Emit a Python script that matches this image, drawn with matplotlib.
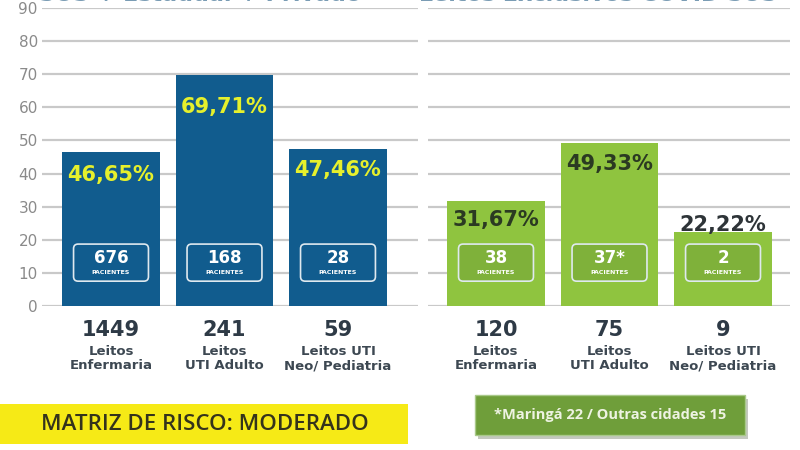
import matplotlib
matplotlib.use("Agg")
import matplotlib.pyplot as plt
from matplotlib.patches import FancyBboxPatch, Rectangle

# left group (blue), right group (green)
categories = ["Leitos\nEnfermaria", "Leitos\nUTI Adulto", "Leitos UTI\nNeo/ Pediatria"]
left_pct = [46.65, 69.71, 47.46]
left_beds = [1449, 241, 59]
left_patients = ["676", "168", "28"]
right_pct = [31.67, 49.33, 22.22]
right_beds = [120, 75, 9]
right_patients = ["38", "37*", "2"]
yticks = [0, 10, 20, 30, 40, 50, 60, 70, 80, 90]

BLUE = "#115c8e"
GREEN = "#8fc43f"
GREEN_DARK = "#6f9e3a"
GRID = "#c9c9c9"
DARK = "#2e3a46"
YELLOW_TXT = "#e6f02c"

fig = plt.figure(figsize=(8, 4.5), dpi=100)
fig.patch.set_facecolor("white")

ax1 = fig.add_axes([42/800, 1-306/450, 376/800, 298/450])
ax2 = fig.add_axes([428/800, 1-306/450, 362/800, 298/450])


def pct_label(v):
    return ("%.2f%%" % v).replace(".", ",")


def setup(ax, x0, x1):
    ax.set_xlim(x0, x1)
    ax.set_ylim(0, 90)
    ax.set_yticks(yticks)
    ax.grid(axis="y", color=GRID, linewidth=1.6, zorder=0)
    ax.set_axisbelow(True)
    for s in ax.spines.values():
        s.set_visible(False)
    ax.set_xticks([])
    ax.tick_params(axis="y", length=0, labelsize=11, labelcolor="#8a8a8a", pad=3)


setup(ax1, -0.608, 2.705)
setup(ax2, -0.599, 2.59)
ax2.set_yticklabels([])

# pixels per data unit ratio, for rounded boxes
asp = (113.5 / 3.31)


def draw_group(ax, pct, beds, patients, color, box_fill, pct_color, pct_pos):
    xs = range(len(pct))
    ax.bar(xs, pct, width=0.86, color=color, zorder=2)
    for i in xs:
        # patient box
        box = FancyBboxPatch((i - 0.33, 7.5), 0.66, 11.2,
                             boxstyle="round,pad=0,rounding_size=0.04",
                             mutation_aspect=asp,
                             facecolor=box_fill, edgecolor="#dfe9ef",
                             linewidth=1.2, zorder=3)
        ax.add_patch(box)
        ax.text(i, 14.5, patients[i], ha="center", va="center", fontsize=12,
                fontweight="bold", color="white", zorder=4)
        ax.text(i, 10.2, "PACIENTES", ha="center", va="center", fontsize=4.5,
                fontweight="bold", color="white", zorder=4)
        # percentage
        ax.text(i, pct_pos[i], pct_label(pct[i]), ha="center", va="center",
                fontsize=15, fontweight="bold", color=pct_color[i], zorder=4)
        # totals under the bars
        ax.text(i, -7.3, str(beds[i]), ha="center", va="center", fontsize=15,
                fontweight="bold", color=DARK, clip_on=False)
        ax.text(i, -16.0, categories[i], ha="center", va="center", fontsize=9.5,
                fontweight="bold", color="#3d4852", linespacing=1.1, clip_on=False)


draw_group(ax1, left_pct, left_beds, left_patients, BLUE, BLUE,
           [YELLOW_TXT] * 3, [39.5, 60.0, 41.0])
draw_group(ax2, right_pct, right_beds, right_patients, GREEN, "#7fb13a",
           ["#2b3a22", "#2b3a22", "#2e3438"], [26.0, 43.0, 24.5])

# titles, cut off at the top edge as in the source picture
fig.text(200/800, 1-1/450, "SUS + Estadual + Privado", ha="center", va="baseline",
         fontsize=16, fontweight="bold", color="#7a9cb4")
fig.text(598/800, 1-1/450, "Leitos Exclusivos COVID SUS", ha="center", va="baseline",
         fontsize=16, fontweight="bold", color="#7a9cb4")

# yellow banner
fig.patches.append(Rectangle((0, 1-444/450), 408/800, 40/450, transform=fig.transFigure,
                             facecolor="#f6ea16", edgecolor="none"))
fig.text(205/800, 1-424/450, "MATRIZ DE RISCO: MODERADO", ha="center", va="center",
         fontsize=16, fontweight="semibold", family="Open Sans", color="#34331c")

# green note
fig.patches.append(Rectangle((478/800, 1-439/450), 270/800, 40/450, transform=fig.transFigure,
                             facecolor="#c4c8bf", edgecolor="none"))
fig.patches.append(Rectangle((475/800, 1-435/450), 270/800, 40/450, transform=fig.transFigure,
                             facecolor=GREEN_DARK, edgecolor="#a9c98a", linewidth=1))
fig.text(610/800, 1-415/450, "*Maringá 22 / Outras cidades 15", ha="center", va="center",
         fontsize=10.5, fontweight="bold", family="Open Sans", color="#eef3e2")

fig.savefig("out.png", dpi=100)
